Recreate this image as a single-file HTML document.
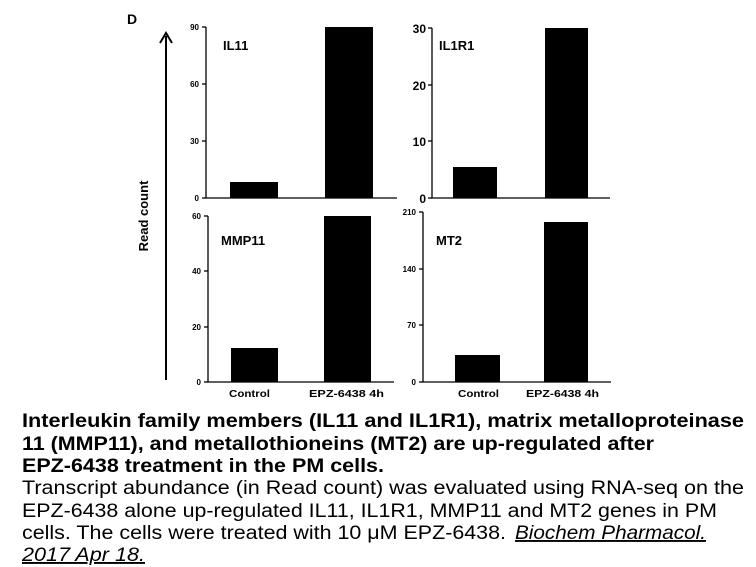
<!DOCTYPE html>
<html><head><meta charset="utf-8"><style>
html,body{margin:0;padding:0;background:#fff;}
svg{display:block;}
text{font-family:"Liberation Sans",Arial,sans-serif;fill:#000;}
</style></head><body>
<svg width="756" height="567" viewBox="0 0 756 567" xmlns="http://www.w3.org/2000/svg">
<text x="127" y="24" font-size="14" font-weight="bold">D</text>
<line x1="166" y1="36" x2="166" y2="380" stroke="#000" stroke-width="2"/>
<polyline points="160,43 166,33 172,43" fill="none" stroke="#000" stroke-width="2"/>
<text transform="translate(148,216) rotate(-90)" font-size="13" font-weight="bold" text-anchor="middle">Read count</text>

<g stroke="#000" stroke-width="1.3" fill="none">
<polyline points="206,27 206,198 397,198"/>
<line x1="202" y1="27" x2="206" y2="27"/><line x1="202" y1="84" x2="206" y2="84"/><line x1="202" y1="141" x2="206" y2="141"/><line x1="202" y1="198" x2="206" y2="198"/>
<polyline points="432,28 432,198 610,198"/>
<line x1="428" y1="28" x2="432" y2="28"/><line x1="428" y1="85" x2="432" y2="85"/><line x1="428" y1="141" x2="432" y2="141"/><line x1="428" y1="198" x2="432" y2="198"/>
<polyline points="208,216 208,382 394,382"/>
<line x1="204" y1="216" x2="208" y2="216"/><line x1="204" y1="271" x2="208" y2="271"/><line x1="204" y1="327" x2="208" y2="327"/><line x1="204" y1="382" x2="208" y2="382"/>
<polyline points="423,212 423,382 611,382"/>
<line x1="419" y1="212" x2="423" y2="212"/><line x1="419" y1="269" x2="423" y2="269"/><line x1="419" y1="325" x2="423" y2="325"/><line x1="419" y1="382" x2="423" y2="382"/>
</g>
<g fill="#000">
<rect x="230" y="182" width="48" height="16"/><rect x="325" y="27" width="48" height="171"/>
<rect x="453" y="167" width="44" height="31"/><rect x="545" y="28" width="43" height="170"/>
<rect x="231" y="348" width="47" height="34"/><rect x="324" y="216" width="47" height="166"/>
<rect x="455" y="355" width="45" height="27"/><rect x="544" y="222" width="44" height="160"/>
</g>
<g font-size="8" font-weight="bold" text-anchor="end">
<text x="199" y="30">90</text><text x="199" y="87">60</text><text x="199" y="144">30</text><text x="199" y="201">0</text>
<text x="201" y="219">60</text><text x="201" y="274">40</text><text x="201" y="330">20</text><text x="201" y="385">0</text>
<text x="416" y="215">210</text><text x="416" y="272">140</text><text x="416" y="328">70</text><text x="416" y="385">0</text>
</g>
<g font-size="12" font-weight="bold" text-anchor="end">
<text x="426" y="33">30</text><text x="426" y="90">20</text><text x="426" y="146">10</text><text x="426" y="203">0</text>
</g>
<g font-size="13" font-weight="bold">
<text x="223" y="50">IL11</text><text x="439" y="50">IL1R1</text>
<text x="221" y="245">MMP11</text><text x="436" y="245">MT2</text>
</g>
<g font-size="10" font-weight="bold">
<text x="229" y="397" textLength="41" lengthAdjust="spacingAndGlyphs">Control</text>
<text x="309" y="397" textLength="75" lengthAdjust="spacingAndGlyphs">EPZ-6438 4h</text>
<text x="458" y="397" textLength="41" lengthAdjust="spacingAndGlyphs">Control</text>
<text x="526" y="397" textLength="73" lengthAdjust="spacingAndGlyphs">EPZ-6438 4h</text>
</g>
<g font-size="19" font-weight="bold">
<text x="22" y="427" textLength="722" lengthAdjust="spacingAndGlyphs">Interleukin family members (IL11 and IL1R1), matrix metalloproteinase</text>
<text x="22" y="450" textLength="632" lengthAdjust="spacingAndGlyphs">11 (MMP11), and metallothioneins (MT2) are up-regulated after</text>
<text x="22" y="472" textLength="362" lengthAdjust="spacingAndGlyphs">EPZ-6438 treatment in the PM cells.</text>
</g>
<g font-size="19">
<text x="22" y="494" textLength="722" lengthAdjust="spacingAndGlyphs">Transcript abundance (in Read count) was evaluated using RNA-seq on the</text>
<text x="22" y="517" textLength="695" lengthAdjust="spacingAndGlyphs">EPZ-6438 alone up-regulated IL11, IL1R1, MMP11 and MT2 genes in PM</text>
<text x="22" y="539" textLength="484" lengthAdjust="spacingAndGlyphs">cells. The cells were treated with 10 μM EPZ-6438.</text>
<text x="515" y="539" font-style="italic" text-decoration="underline" textLength="191" lengthAdjust="spacingAndGlyphs">Biochem Pharmacol.</text>
<text x="22" y="561" font-style="italic" text-decoration="underline" textLength="123" lengthAdjust="spacingAndGlyphs">2017 Apr 18.</text>
</g>
</svg>
</body></html>
